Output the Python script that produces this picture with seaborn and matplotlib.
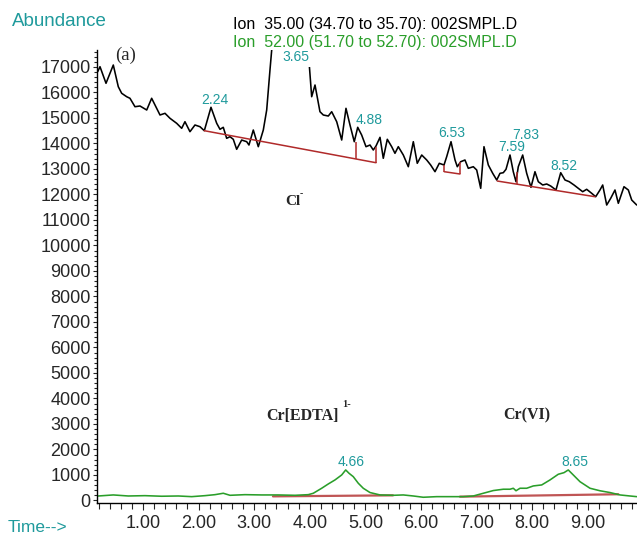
import matplotlib
matplotlib.use("Agg")
import matplotlib.pyplot as plt
import seaborn as sns
import pandas as pd
from matplotlib.ticker import MultipleLocator, FixedLocator, FormatStrFormatter

# ---------------- data ----------------
cl_time = [0.185, 0.227, 0.335, 0.466, 0.556, 0.617, 0.707, 0.766, 0.856, 0.946,
           1.067, 1.156, 1.306, 1.396, 1.486, 1.606, 1.696, 1.755, 1.845, 1.935,
           2.025, 2.103, 2.223, 2.326, 2.385, 2.444, 2.505, 2.565, 2.624, 2.685,
           2.775, 2.865, 2.906, 2.984, 3.074, 3.164, 3.225, 3.284, 3.315, 3.50,
           3.65, 3.80, 3.92, 3.991, 4.034, 4.094, 4.183, 4.243, 4.333, 4.394,
           4.484, 4.574, 4.651, 4.723, 4.800, 4.862, 4.933, 5.011, 5.083, 5.142,
           5.191, 5.263, 5.322, 5.394, 5.473, 5.532, 5.592, 5.682, 5.772, 5.862,
           5.933, 6.013, 6.103, 6.174, 6.252, 6.329, 6.414, 6.462, 6.540, 6.612,
           6.653, 6.714, 6.791, 6.851, 6.941, 7.002, 7.074, 7.133, 7.211, 7.290,
           7.362, 7.421, 7.480, 7.529, 7.601, 7.660, 7.709, 7.750, 7.829, 7.901,
           7.978, 8.050, 8.110, 8.189, 8.261, 8.333, 8.428, 8.513, 8.590, 8.667,
           8.752, 8.829, 8.908, 8.980, 9.070, 9.142, 9.219, 9.268, 9.340, 9.412,
           9.489, 9.549, 9.651, 9.729, 9.790, 9.849, 9.880]
cl_abund = [16814, 17010, 16359, 17076, 16225, 15967, 15833, 15771, 15441, 15469,
            15312, 15771, 15116, 15182, 14986, 14790, 14594, 14853, 14461, 14724,
            14657, 14500, 15418, 14790, 14555, 14633, 14202, 14265, 14163, 13771,
            14135, 14069, 13939, 14527, 13873, 14527, 15312, 16880, 17665, 26000,
            32000, 26000, 19500, 17076, 15833, 16292, 15245, 15116, 15076, 15245,
            14853, 14135, 15378, 14724, 14069, 14633, 14331, 13873, 13939, 13743,
            13900, 14241, 13418, 14163, 13873, 13614, 13873, 13547, 13088, 14069,
            13222, 13547, 13351, 13155, 12892, 13222, 13155, 13480, 14069, 13351,
            13088, 13284, 13351, 13025, 13088, 12959, 12241, 13873, 13155, 12829,
            12567, 12829, 12853, 12986, 13547, 12892, 12500, 13088, 13547, 12829,
            12280, 12892, 12500, 12371, 12410, 12331, 12175, 12853, 12567, 12500,
            12371, 12241, 12108, 12202, 12045, 11912, 12175, 12371, 11586, 11849,
            12175, 11653, 12304, 12175, 11782, 11653, 11586]

cr_time = [0.196, 0.466, 0.736, 1.036, 1.336, 1.635, 1.876, 2.115, 2.295, 2.444,
           2.565, 2.835, 3.135, 3.433, 3.734, 3.973, 4.063, 4.214, 4.333, 4.453,
           4.574, 4.646, 4.705, 4.782, 4.872, 4.962, 5.083, 5.263, 5.502, 5.682,
           5.862, 6.041, 6.282, 6.522, 6.761, 6.941, 7.121, 7.300, 7.480, 7.601,
           7.660, 7.709, 7.781, 7.901, 8.020, 8.171, 8.320, 8.469, 8.572, 8.649,
           8.739, 8.860, 9.040, 9.219, 9.399, 9.579, 9.759, 9.880]
cr_abund = [175, 216, 175, 188, 165, 175, 149, 188, 227, 282,
            202, 227, 216, 216, 202, 227, 282, 478, 647, 804,
            1000, 1196, 1067, 933, 675, 478, 310, 216, 202, 216,
            175, 125, 149, 149, 149, 175, 282, 388, 440, 440,
            478, 380, 478, 478, 569, 608, 804, 1027, 1090, 1196,
            1000, 735, 478, 380, 310, 216, 175, 149]

cl_base_t = [[2.103, 5.191], [6.419, 6.701], [7.372, 9.129]]
cl_base_v = [[14500, 13245], [12892, 12802], [12527, 11912]]
cl_drop_t = [4.831, 5.191, 6.419, 6.701, 7.732]
cl_drop_lo = [13391, 13245, 12892, 12802, 12401]
cl_drop_hi = [14069, 13850, 13155, 13284, 12900]

cr_base_t = [[3.338, 5.496], [6.701, 9.549]]
cr_base_v = [[160, 200], [149, 243]]

peak_labels = ["2.24", "3.65", "4.88", "6.53", "7.59", "7.83", "8.52", "4.66", "8.65"]
peak_lab_t = [2.295, 3.743, 5.074, 6.552, 7.637, 7.888, 8.572, 4.741, 8.77]
peak_lab_v = [15704, 17402, 14920, 14410, 13873, 14341, 13116, 1520, 1520]

x_ticks = [1, 2, 3, 4, 5, 6, 7, 8, 9]
y_ticks = list(range(0, 17001, 1000))

# ---------------- style ----------------
sns.set_style("ticks")
plt.rcParams["font.family"] = ["Liberation Sans", "DejaVu Sans"]

TEAL = "#1f9a9c"
GREEN = "#2a9e2a"
RED = "#b02a2a"

fig = plt.figure(figsize=(6.37, 5.34), dpi=100)
ax = fig.add_axes([97 / 637, 31 / 534, 540 / 637, 453 / 534])

cl_df = pd.DataFrame({"time": cl_time, "abund": cl_abund})
cr_df = pd.DataFrame({"time": cr_time, "abund": cr_abund})

sns.lineplot(data=cl_df, x="time", y="abund", ax=ax, color="black", lw=1.15,
             sort=False, estimator=None, zorder=2)
sns.lineplot(data=cr_df, x="time", y="abund", ax=ax, color=GREEN, lw=1.15,
             sort=False, estimator=None, zorder=2)

for ts, vs in zip(cl_base_t, cl_base_v):
    ax.plot(ts, vs, color=RED, lw=1.1, zorder=2.5)
ax.vlines(cl_drop_t, cl_drop_lo, cl_drop_hi, color=RED, lw=1.1, zorder=2.5)
for ts, vs in zip(cr_base_t, cr_base_v):
    ax.plot(ts, vs, color=RED, lw=1.6, alpha=0.8, zorder=1.5)

for lab, t, v in zip(peak_labels, peak_lab_t, peak_lab_v):
    bb = None
    if lab == "3.65":
        bb = dict(facecolor="white", edgecolor="none", pad=2.5)
    ax.text(t, v, lab, color=TEAL, fontsize=10, ha="center", va="center",
            bbox=bb, zorder=4)

serif = ["Liberation Serif", "DejaVu Serif"]
ax.text(0.694, 17469, "(a)", family=serif, fontsize=13.5, ha="center", va="center")
ax.text(3.698, 11743, "Cl", family=serif, fontsize=11, fontweight="bold",
        ha="center", va="center")
ax.text(3.85, 12050, "-", family=serif, fontsize=7, fontweight="bold",
        ha="center", va="center")
ax.text(3.212, 3330, "Cr[EDTA]", family=serif, fontsize=11.5, fontweight="bold",
        ha="left", va="center")
ax.text(4.58, 3760, "1-", family=serif, fontsize=7.5, fontweight="bold",
        ha="left", va="center")
ax.text(7.475, 3330, "Cr(VI)", family=serif, fontsize=11.5, fontweight="bold",
        ha="left", va="center")

ax.set_xlim(0.173, 9.885)
ax.set_ylim(-100, 17665)
ax.xaxis.set_major_locator(FixedLocator(x_ticks))
ax.xaxis.set_major_formatter(FormatStrFormatter("%.2f"))
ax.xaxis.set_minor_locator(MultipleLocator(0.2))
ax.yaxis.set_major_locator(FixedLocator(y_ticks))
ax.yaxis.set_minor_locator(MultipleLocator(200))
ax.set_xlabel("")
ax.set_ylabel("")
sns.despine(ax=ax, top=True, right=True)
for s in ["left", "bottom"]:
    ax.spines[s].set_linewidth(1.0)
    ax.spines[s].set_color("black")
ax.tick_params(axis="y", which="major", length=3, width=0.8, pad=1.5, labelsize=13)
ax.tick_params(axis="y", which="minor", length=2, width=0.8)
ax.tick_params(axis="x", which="major", length=5, width=0.8, pad=4, labelsize=13)
ax.tick_params(axis="x", which="minor", length=4, width=0.8)

fig.text(12 / 637, 1 - 21 / 534, "Abundance", color=TEAL, fontsize=13.5,
         ha="left", va="center")
fig.text(8 / 637, 1 - 527 / 534, "Time-->", color=TEAL, fontsize=12.5,
         ha="left", va="center")
fig.text(233 / 637, 1 - 24 / 534, "Ion  35.00 (34.70 to 35.70): 002SMPL.D",
         color="black", fontsize=11.5, ha="left", va="center")
fig.text(233 / 637, 1 - 42 / 534, "Ion  52.00 (51.70 to 52.70): 002SMPL.D",
         color=GREEN, fontsize=11.5, ha="left", va="center")

fig.savefig("out.png", dpi=100)
